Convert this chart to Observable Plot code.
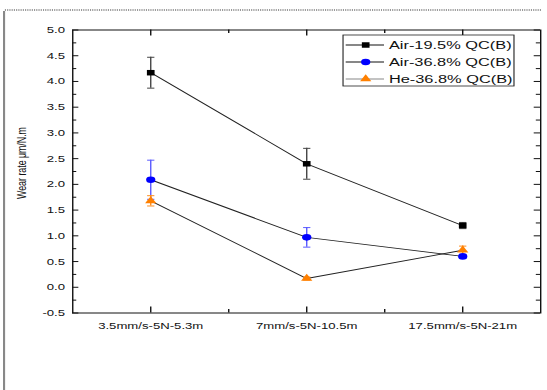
<!DOCTYPE html>
<html><head><meta charset="utf-8">
<script src="https://cdn.jsdelivr.net/npm/d3@7"></script>
<script src="https://cdn.jsdelivr.net/npm/@observablehq/plot@0.6"></script>
<style>body{margin:0;background:#fff;overflow:hidden} #chart svg{display:block}</style>
</head><body><div id="chart"></div>
<script>
const categories = ["3.5mm/s-5N-5.3m", "7mm/s-5N-10.5m", "17.5mm/s-5N-21m"];
const seriesNames = ["Air-19.5% QC(B)", "Air-36.8% QC(B)", "He-36.8% QC(B)"];
const air195 = [4.17, 2.40, 1.20];
const air195Err = [0.30, 0.30, 0.06];
const air368 = [2.09, 0.97, 0.60];
const air368Err = [0.38, 0.19, 0.03];
const he368 = [1.68, 0.17, 0.72];
const he368Err = [0.10, 0.03, 0.08];
const yTickValues = [-0.5, 0, 0.5, 1, 1.5, 2, 2.5, 3, 3.5, 4, 4.5, 5];
const yMinorValues = [-0.25, 0.25, 0.75, 1.25, 1.75, 2.25, 2.75, 3.25, 3.75, 4.25, 4.75];
const xTickValues = [0, 1, 2];
const xMinorValues = [0.5, 1.5];
const yLabel = "Wear rate μm/N.m";

const seriesColors = ["#000000", "#0000ff", "#ff8000"];
const errColors = ["#444444", "#5a5aff", "#ff8c1a"];
const seriesSymbols = ["square", "circle", "triangle"];
const seriesR = [3.1, 3.3, 3.0];
const legendLineColors = ["#111111", "#111111", "#888888"];

const values = [air195, air368, he368];
const errs = [air195Err, air368Err, he368Err];
const rows = [];
values.forEach((vals, s) => vals.forEach((v, i) => rows.push({s, name: seriesNames[s], i, v, e: errs[s][i]})));
const caps = [];
rows.forEach(d => { caps.push({...d, y: d.v - d.e}); caps.push({...d, y: d.v + d.e}); });

const W = 391, H = 390;
const mL = 51.5, mR = 5, mT = 29.5, mB = 77.5;
const plotW = W - mL - mR, plotH = H - mT - mB;

const capSymbol = {draw(ctx, size) { const w = Math.sqrt(size / Math.PI); ctx.moveTo(-w, 0); ctx.lineTo(w, 0); }};

const marks = [
  Plot.frame({stroke: "#111", strokeWidth: 1}),
  // inward ticks
  Plot.tickY(yTickValues, {y: d => d, insetRight: plotW - 4.5, stroke: "#111"}),
  Plot.tickY(yMinorValues, {y: d => d, insetRight: plotW - 3, stroke: "#111"}),
  Plot.tickY(yTickValues, {y: d => d, insetLeft: plotW - 4.5, stroke: "#111"}),
  Plot.tickY(yMinorValues, {y: d => d, insetLeft: plotW - 3, stroke: "#111"}),
  Plot.tickX(xTickValues, {x: d => d, insetTop: plotH - 6, stroke: "#111"}),
  Plot.tickX(xMinorValues, {x: d => d, insetTop: plotH - 3.5, stroke: "#111"}),
  Plot.tickX(xTickValues, {x: d => d, insetBottom: plotH - 6, stroke: "#111"}),
  Plot.tickX(xMinorValues, {x: d => d, insetBottom: plotH - 3.5, stroke: "#111"}),
  Plot.axisY({ticks: yTickValues, tickSize: 0, tickPadding: 5.5, label: null,
    tickFormat: d => (d < 0 ? "-" : "") + Math.abs(d).toFixed(1)}),
  Plot.axisX({ticks: xTickValues, tickSize: 0, tickPadding: 9.5, label: null,
    tickFormat: i => categories[i]}),
  Plot.line(rows, {x: "i", y: "v", z: "s", stroke: "#222", strokeWidth: 0.9}),
  Plot.ruleX(rows, {x: "i", y1: d => d.v - d.e, y2: d => d.v + d.e, stroke: d => errColors[d.s], strokeWidth: 1}),
  Plot.dot(caps, {x: "i", y: "y", symbol: capSymbol, r: 2.6, stroke: d => errColors[d.s], strokeWidth: 1, fill: "none"}),
  ...[0, 1, 2].map(s => Plot.dot(rows.filter(d => d.s === s), {x: "i", y: "v", symbol: seriesSymbols[s], r: seriesR[s], fill: seriesColors[s]}))
];

const svg = Plot.plot({
  width: W, height: H,
  marginLeft: mL, marginRight: mR, marginTop: mT, marginBottom: mB,
  x: {type: "linear", domain: [-0.5, 2.5], label: null},
  y: {domain: [-0.5, 5], label: null},
  style: {fontFamily: "'Liberation Sans', Arial, sans-serif", fontSize: "9.4px", color: "#111", background: "white"},
  marks
});

// decorations, y label, legend
const g = d3.select(svg);
g.append("line").attr("x1", 3.5).attr("x2", 387).attr("y1", 10).attr("y2", 10)
  .attr("stroke", "#333").attr("stroke-width", 1.2).attr("stroke-dasharray", "0.8,0.8");
g.append("line").attr("x1", 2.9).attr("x2", 2.9).attr("y1", 11).attr("y2", 390)
  .attr("stroke", "#888").attr("stroke-width", 1.5);
g.append("text").attr("transform", "translate(15.5,163) rotate(-90)")
  .attr("text-anchor", "middle").attr("dy", "0.35em")
  .style("font-size", "8.8px").attr("fill", "#111").text(yLabel);

const leg = g.append("g").attr("text-anchor", "start");
leg.append("rect").attr("x", 245.2).attr("y", 35).attr("width", 122.2).attr("height", 51)
  .attr("fill", "white").attr("stroke", "#222").attr("stroke-width", 0.8);
const rowY = [45, 62, 79];
const symMap = {square: d3.symbolSquare, circle: d3.symbolCircle, triangle: d3.symbolTriangle};
seriesNames.forEach((name, s) => {
  leg.append("line").attr("x1", 247.1).attr("x2", 274.5).attr("y1", rowY[s]).attr("y2", rowY[s])
    .attr("stroke", legendLineColors[s]).attr("stroke-width", 1);
  leg.append("path").attr("transform", `translate(261.4,${rowY[s]})`)
    .attr("d", d3.symbol(symMap[seriesSymbols[s]], seriesR[s] * seriesR[s] * Math.PI)())
    .attr("fill", seriesColors[s]);
  leg.append("text").attr("x", 278).attr("y", rowY[s]).attr("dy", "0.36em")
    .attr("text-anchor", "start")
    .style("font-size", "11.7px").attr("fill", "#111").text(name);
});

// the reference is horizontally stretched: stretch the drawing the same way
svg.setAttribute("width", 547);
svg.setAttribute("preserveAspectRatio", "none");
svg.style.width = "547px";
svg.style.height = "390px";
svg.style.maxWidth = "none";
document.getElementById("chart").appendChild(svg);
</script>
</body></html>
